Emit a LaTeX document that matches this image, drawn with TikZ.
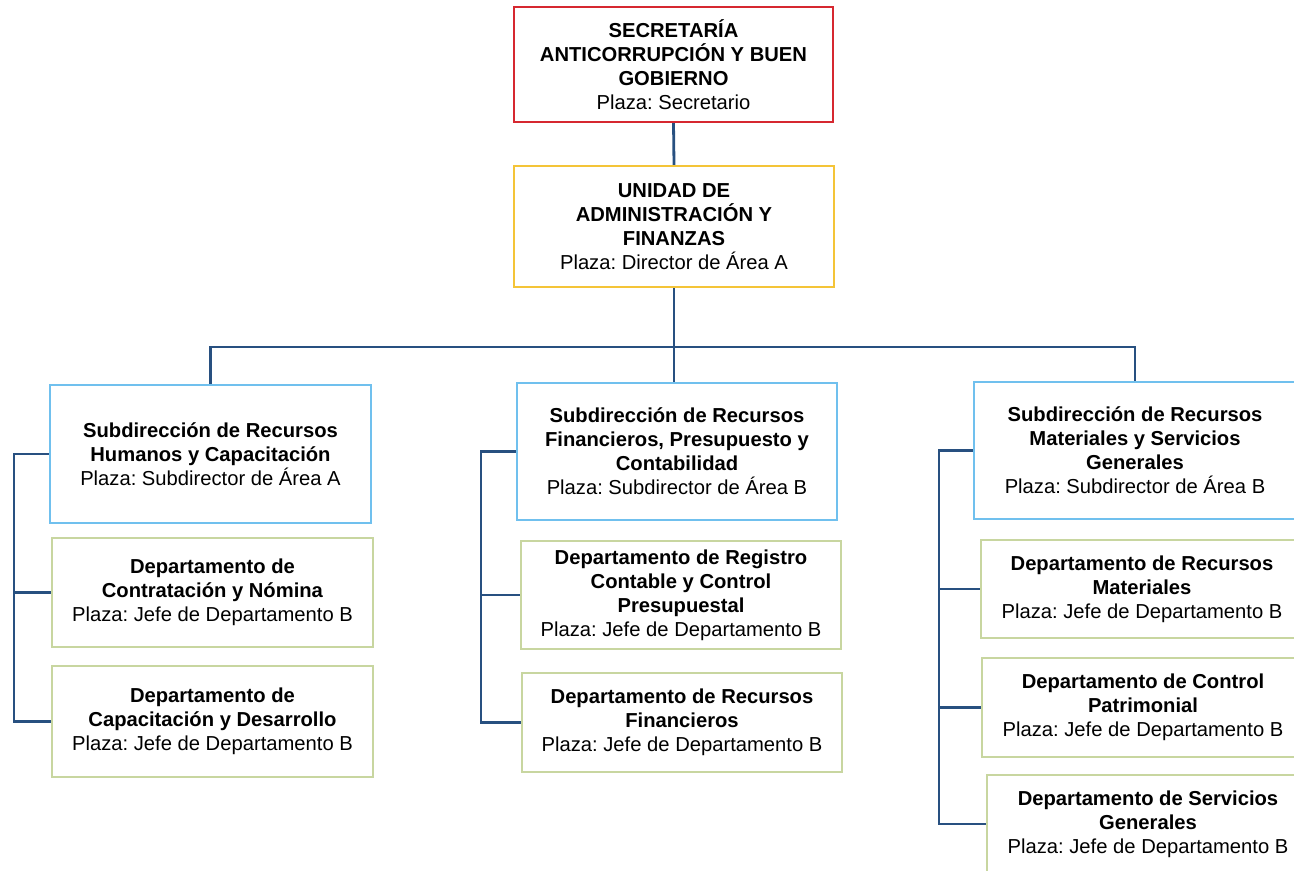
\documentclass[tikz,border=0pt]{standalone}
\usepackage{fontspec}
\setmainfont{Liberation Sans}
\frenchspacing
\definecolor{boxRed}{RGB}{214,40,48}
\definecolor{boxYellow}{RGB}{244,196,56}
\definecolor{boxBlue}{RGB}{112,192,238}
\definecolor{boxGreen}{RGB}{200,214,160}
\definecolor{linkBlue}{RGB}{40,80,128}
\tikzset{
  box/.style={draw, line width=1.2pt, align=center, inner sep=0pt,
    font=\fontsize{10.1}{12}\selectfont},
  link/.style={draw=linkBlue, line width=1.4pt}
}

\begin{document}
\begin{tikzpicture}[x=0.5pt, y=-0.5pt]

      % frame of the scanned page, boxes on the right run past its edge
      \useasboundingbox (0,0) rectangle (1294,871);
      \clip (0,0) rectangle (1294,871);

      %% top of the chart
      \node[box, draw=boxRed, minimum width=159.5pt, minimum height=57.5pt] (sec) at (673.5,64.5)
        {\textbf{SECRETARÍA}\\\textbf{ANTICORRUPCIÓN Y BUEN}\\\textbf{GOBIERNO}\\Plaza: Secretario};
      \node[box, draw=boxYellow, minimum width=160pt, minimum height=60.5pt] (uaf) at (674,226.5)
        {\textbf{UNIDAD DE}\\\textbf{ADMINISTRACIÓN Y}\\\textbf{FINANZAS}\\Plaza: Director de Área A};

      %% the three subdirecciones
      \node[box, draw=boxBlue, minimum width=160.5pt, minimum height=69pt] (subRH) at (210.5,454)
        {\textbf{Subdirección de Recursos}\\\textbf{Humanos y Capacitación}\\Plaza: Subdirector de Área A};
      \node[box, draw=boxBlue, minimum width=160pt, minimum height=68.5pt] (subRF) at (677,451.5)
        {\textbf{Subdirección de Recursos}\\\textbf{Financieros, Presupuesto y}\\\textbf{Contabilidad}\\Plaza: Subdirector de Área B};
      \node[box, draw=boxBlue, minimum width=161pt, minimum height=68.5pt] (subRM) at (1135,450.5)
        {\textbf{Subdirección de Recursos}\\\textbf{Materiales y Servicios}\\\textbf{Generales}\\Plaza: Subdirector de Área B};

      %% departamentos, left column
      \node[box, draw=boxGreen, minimum width=160.5pt, minimum height=54.5pt] (depCN) at (212.5,592.5)
        {\textbf{Departamento de}\\\textbf{Contratación y Nómina}\\Plaza: Jefe de Departamento B};
      \node[box, draw=boxGreen, minimum width=160.5pt, minimum height=55.5pt] (depCD) at (212.5,721.5)
        {\textbf{Departamento de}\\\textbf{Capacitación y Desarrollo}\\Plaza: Jefe de Departamento B};

      %% departamentos, middle column
      \node[box, draw=boxGreen, minimum width=160pt, minimum height=54pt] (depRC) at (681,595)
        {\textbf{Departamento de Registro}\\\textbf{Contable y Control}\\\textbf{Presupuestal}\\Plaza: Jefe de Departamento B};
      \node[box, draw=boxGreen, minimum width=160pt, minimum height=49.5pt] (depRF) at (682,722.5)
        {\textbf{Departamento de Recursos}\\\textbf{Financieros}\\Plaza: Jefe de Departamento B};

      %% departamentos, right column
      \node[box, draw=boxGreen, minimum width=161pt, minimum height=49pt] (depRM) at (1142,589)
        {\textbf{Departamento de Recursos}\\\textbf{Materiales}\\Plaza: Jefe de Departamento B};
      \node[box, draw=boxGreen, minimum width=161pt, minimum height=49.5pt] (depCP) at (1143,707.5)
        {\textbf{Departamento de Control}\\\textbf{Patrimonial}\\Plaza: Jefe de Departamento B};
      \node[box, draw=boxGreen, minimum width=161pt, minimum height=49pt] (depSG) at (1148,824)
        {\textbf{Departamento de Servicios}\\\textbf{Generales}\\Plaza: Jefe de Departamento B};

      %Now the connectors
      \coordinate (bus) at (676,347);
      \coordinate (railL) at (14,0);
      \coordinate (railM) at (481,0);
      \coordinate (railR) at (939,0);

      \draw[link] (sec.south) -- (uaf.north);
      \draw[link] (uaf.south) -- (uaf.south |- subRF.north);
      \draw[link] (subRH.north) -- (subRH.north |- bus) -- (subRM.north |- bus) -- (subRM.north);

      \draw[link] (subRH.west) -- (subRH.west -| railL) |- (depCD.west);
      \draw[link] (depCN.west) -- (depCN.west -| railL);

      \draw[link] (subRF.west) -- (subRF.west -| railM) |- (depRF.west);
      \draw[link] (depRC.west) -- (depRC.west -| railM);

      \draw[link] (subRM.west) -- (subRM.west -| railR) |- (depSG.west);
      \draw[link] (depRM.west) -- (depRM.west -| railR);
      \draw[link] (depCP.west) -- (depCP.west -| railR);

    \end{tikzpicture}
\end{document}
